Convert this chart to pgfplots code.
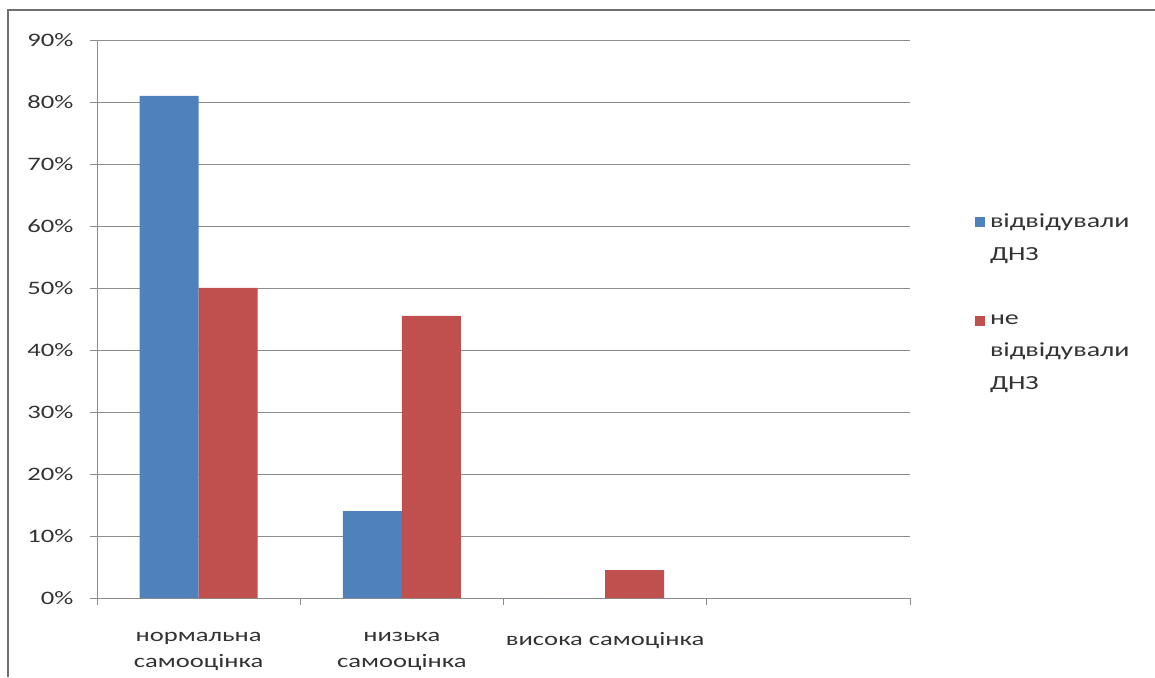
\documentclass[border=0pt]{standalone}
\usepackage{pgfplots}
\pgfplotsset{compat=1.18}
\usepackage{fontspec}
\setmainfont{Carlito}[FakeStretch=1.4]
\definecolor{barblue}{HTML}{4F81BD}
\definecolor{barred}{HTML}{C0504D}
\definecolor{gridgray}{HTML}{8C8C8C}
\definecolor{txt}{HTML}{333333}
\begin{document}
\begin{tikzpicture}[x=1pt,y=1pt]
\useasboundingbox (0,0) rectangle (1155,677);
\draw[gridgray!80!black, line width=1.6pt] (8,0) -- (8,667) -- (1155,667);
\begin{axis}[
  at={(97pt,79pt)}, anchor=south west,
  width=813pt, height=558pt, scale only axis,
  xmin=-0.5, xmax=3.5, ymin=0, ymax=90,
  ytick={0,10,...,90},
  yticklabel={\pgfmathprintnumber{\tick}\%},
  /pgf/number format/assume math mode=true,
  ymajorgrids, grid style={gridgray, line width=0.8pt},
  axis x line*=bottom, axis y line*=left,
  axis line style={gridgray, line width=0.8pt, -},
  xtick={-0.5,0.5,1.5,2.5,3.5}, xticklabels={},
  extra x ticks={0,1,2},
  extra x tick labels={нормальна\\самооцінка, низька\\самооцінка, висока самоцінка\\\mbox{}},
  extra x tick style={major tick length=0pt, grid=none},
  tick align=outside, major tick length=7pt,
  tick style={gridgray, line width=0.8pt},
  every tick label/.append style={font=\fontsize{19}{25.5}\selectfont, text=txt},
  xticklabel style={align=center, anchor=north, yshift=-31pt},
  yticklabel style={xshift=-13pt},
  legend style={at={(1.076,0.53)}, anchor=west, draw=none, fill=none,
    font=\fontsize{20}{32.5}\selectfont, text=txt, row sep=49pt,
    cells={anchor=west, align=left}},
]
\addplot[ybar, bar width=0.29, bar shift=-0.145, fill=barblue, draw=none,
  legend image code/.code={\fill[barblue] (0pt,11pt) rectangle (10pt,21pt);}]
  coordinates {(0,81) (1,14) (2,0)};
\addlegendentry{\hspace{3pt}відвідували\\\hspace{3pt}ДНЗ}
\addplot[ybar, bar width=0.29, bar shift=0.145, fill=barred, draw=none,
  legend image code/.code={\fill[barred] (0pt,27pt) rectangle (10pt,37pt);}]
  coordinates {(0,50) (1,45.5) (2,4.5)};
\addlegendentry{\hspace{3pt}не\\\hspace{3pt}відвідували\\\hspace{3pt}ДНЗ}
\end{axis}
\end{tikzpicture}
\end{document}
